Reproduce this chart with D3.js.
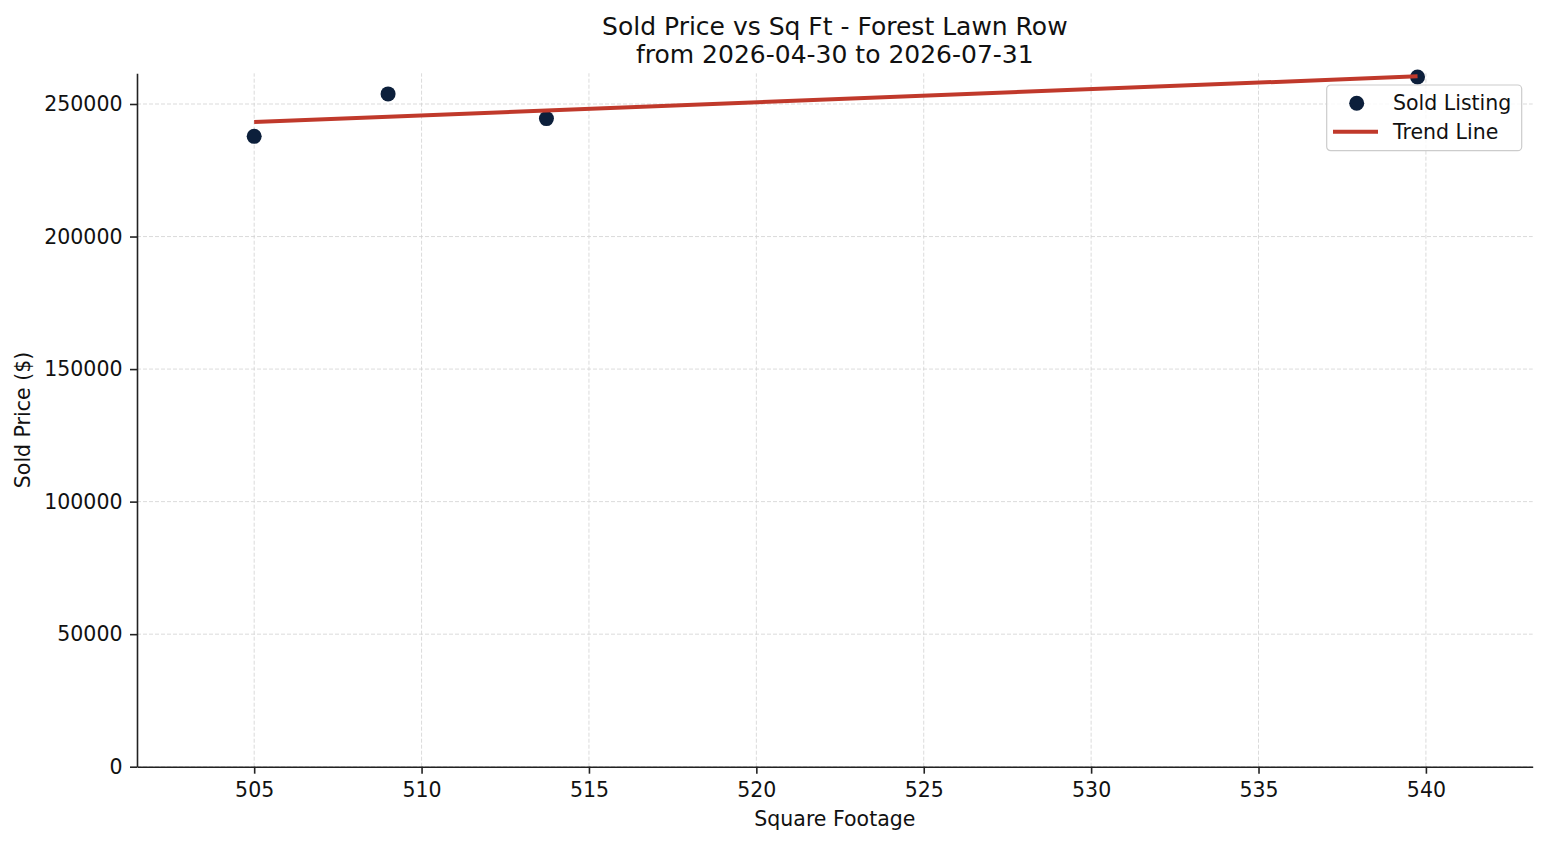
<!DOCTYPE html>
<html>
<head>
<meta charset="utf-8">
<script src="https://cdn.jsdelivr.net/npm/d3@7"></script>
<style>
  body { margin: 0; background: #fff; }
  svg { display: block; font-family: "DejaVu Sans", sans-serif; }
</style>
</head>
<body>
<div id="chart"></div>
<script>
// values
var sqft = [505, 509, 513.73, 539.75];
var soldPrice = [237800, 253800, 244500, 260200];
var xTicks = [505, 510, 515, 520, 525, 530, 535, 540];
var yTicks = [0, 50000, 100000, 150000, 200000, 250000];
var titleLines = ["Sold Price vs Sq Ft - Forest Lawn Row", "from 2026-04-30 to 2026-07-31"];

var width = 1547, height = 845;
var margin = {top: 73.3, right: 14.3, bottom: 78.3, left: 137};

var svg = d3.select("#chart").append("svg")
  .attr("width", width).attr("height", height);

var x = d3.scaleLinear().domain([501.5, 543.19])
  .range([margin.left, width - margin.right]);
var y = d3.scaleLinear().domain([0, 261580])
  .range([height - margin.bottom, margin.top]);

// least squares fit for the trend line
var mx = d3.mean(sqft), my = d3.mean(soldPrice);
var sxy = d3.sum(sqft, function(d, i){ return (d - mx) * (soldPrice[i] - my); });
var sxx = d3.sum(sqft, function(d){ return (d - mx) * (d - mx); });
var slope = sxy / sxx, icpt = my - slope * mx;
var trend = d3.extent(sqft).map(function(v){ return [v, icpt + slope * v]; });

// grid
var grid = svg.append("g").attr("class", "grid");
grid.selectAll(".gx").data(xTicks).enter().append("line")
  .attr("x1", function(d){ return x(d); }).attr("x2", function(d){ return x(d); })
  .attr("y1", y.range()[0]).attr("y2", y.range()[1])
  .attr("stroke", "#d2d2d2").attr("stroke-width", 0.8).attr("stroke-dasharray", "4,2");
grid.selectAll(".gy").data(yTicks).enter().append("line")
  .attr("x1", x.range()[0]).attr("x2", x.range()[1])
  .attr("y1", function(d){ return y(d); }).attr("y2", function(d){ return y(d); })
  .attr("stroke", "#d2d2d2").attr("stroke-width", 0.8).attr("stroke-dasharray", "4,2");

// axes
var xAxis = svg.append("g")
  .attr("transform", "translate(0," + (height - margin.bottom) + ")")
  .call(d3.axisBottom(x).tickValues(xTicks).tickSize(7).tickPadding(6).tickSizeOuter(0));
var yAxis = svg.append("g")
  .attr("transform", "translate(" + margin.left + ",0)")
  .call(d3.axisLeft(y).tickValues(yTicks).tickFormat(d3.format("d")).tickSize(7).tickPadding(7.5).tickSizeOuter(0));
[xAxis, yAxis].forEach(function(a){
  a.select(".domain").attr("stroke", "#222").attr("stroke-width", 1.6);
  a.selectAll(".tick line").attr("stroke", "#222").attr("stroke-width", 1.6);
  a.selectAll(".tick text").attr("fill", "#111").style("font-size", "20.5px")
    .style("font-family", "DejaVu Sans");
});
xAxis.selectAll(".tick text").attr("dy", "0.85em");

// scatter
svg.append("g").selectAll("circle")
  .data(sqft).enter().append("circle")
  .attr("cx", function(d){ return x(d); })
  .attr("cy", function(d, i){ return y(soldPrice[i]); })
  .attr("r", 7.5)
  .attr("fill", "#0c1f3b");

// trend line
svg.append("path")
  .datum(trend)
  .attr("fill", "none").attr("stroke", "#c0392b").attr("stroke-width", 4)
  .attr("d", d3.line().x(function(d){ return x(d[0]); }).y(function(d){ return y(d[1]); }));

// title
svg.append("text")
  .attr("x", (x.range()[0] + x.range()[1]) / 2).attr("y", 34.6)
  .attr("text-anchor", "middle").style("font-size", "25px").attr("fill", "#111")
  .selectAll("tspan").data(titleLines).enter().append("tspan")
  .attr("x", (x.range()[0] + x.range()[1]) / 2)
  .attr("dy", function(d, i){ return i ? 28.5 : 0; })
  .text(function(d){ return d; });

// axis labels
svg.append("text")
  .attr("x", (x.range()[0] + x.range()[1]) / 2).attr("y", 826)
  .attr("text-anchor", "middle").style("font-size", "20.5px").attr("fill", "#111")
  .text("Square Footage");
svg.append("text")
  .attr("transform", "translate(30," + ((y.range()[0] + y.range()[1]) / 2) + ") rotate(-90)")
  .attr("text-anchor", "middle").style("font-size", "20.5px").attr("fill", "#111")
  .text("Sold Price ($)");

// legend
var lg = svg.append("g").attr("transform", "translate(1326.7,85)");
lg.append("rect")
  .attr("width", 195).attr("height", 65.7).attr("rx", 4)
  .attr("fill", "#fff").attr("fill-opacity", 0.8)
  .attr("stroke", "#cccccc").attr("stroke-width", 1.2);
lg.append("circle").attr("cx", 30).attr("cy", 18.3).attr("r", 7.5).attr("fill", "#0c1f3b");
lg.append("line").attr("x1", 6.3).attr("x2", 51.3).attr("y1", 46.7).attr("y2", 46.7)
  .attr("stroke", "#c0392b").attr("stroke-width", 4);
lg.append("text").attr("x", 66.3).attr("y", 25).style("font-size", "20.5px").attr("fill", "#111")
  .text("Sold Listing");
lg.append("text").attr("x", 66.3).attr("y", 54).style("font-size", "20.5px").attr("fill", "#111")
  .text("Trend Line");
</script>
</body>
</html>
